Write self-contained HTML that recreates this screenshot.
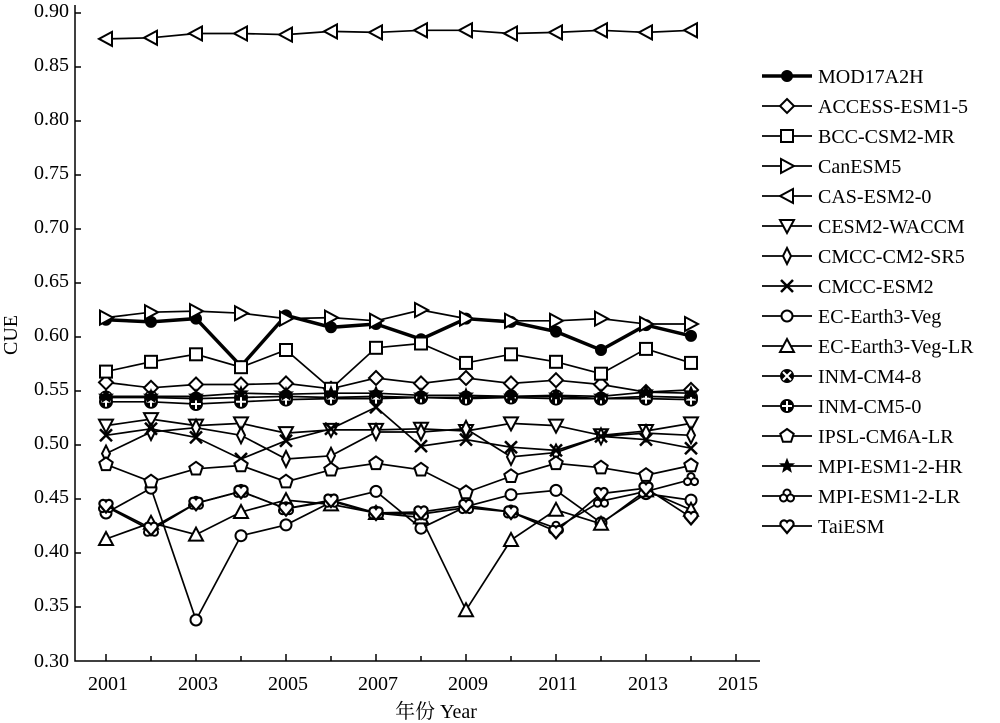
<!DOCTYPE html>
<html><head><meta charset="utf-8"><style>
body{margin:0;background:#fff;}
svg{display:block;font-family:"Liberation Serif","Noto Serif CJK SC",serif;}
</style></head><body>
<svg id="s" width="1000" height="723" viewBox="0 0 1000 723">
<g font-size="20" text-anchor="end" fill="#000">
<text x="69" y="17">0.90</text><text x="69" y="71">0.85</text><text x="69" y="125">0.80</text><text x="69" y="179">0.75</text><text x="69" y="233">0.70</text><text x="69" y="287">0.65</text><text x="69" y="341">0.60</text><text x="69" y="395">0.55</text><text x="69" y="449">0.50</text><text x="69" y="503">0.45</text><text x="69" y="557">0.40</text><text x="69" y="611">0.35</text><text x="69" y="667">0.30</text>
</g>
<g font-size="20" text-anchor="middle">
<text x="108" y="690">2001</text><text x="198" y="690">2003</text><text x="288" y="690">2005</text><text x="378" y="690">2007</text><text x="468" y="690">2009</text><text x="558" y="690">2011</text><text x="648" y="690">2013</text><text x="738" y="690">2015</text>
<text x="436" y="718">年份 Year</text>
</g>
<text font-size="20" transform="translate(17,335) rotate(-90)" text-anchor="middle">CUE</text>
<g font-size="20">
<text x="818" y="83">MOD17A2H</text><text x="818" y="113">ACCESS-ESM1-5</text><text x="818" y="143">BCC-CSM2-MR</text><text x="818" y="173">CanESM5</text><text x="818" y="203">CAS-ESM2-0</text><text x="818" y="233">CESM2-WACCM</text><text x="818" y="263">CMCC-CM2-SR5</text><text x="818" y="293">CMCC-ESM2</text><text x="818" y="323">EC-Earth3-Veg</text><text x="818" y="353">EC-Earth3-Veg-LR</text><text x="818" y="383">INM-CM4-8</text><text x="818" y="413">INM-CM5-0</text><text x="818" y="443">IPSL-CM6A-LR</text><text x="818" y="473">MPI-ESM1-2-HR</text><text x="818" y="503">MPI-ESM1-2-LR</text><text x="818" y="533">TaiESM</text>
</g>
<g id="g" stroke="#000" fill="none"></g>
<path d="M75 5V661H760" stroke="#000" stroke-width="1.5" fill="none"/>
<path d="M106 661v-7M151 661v-5M196 661v-7M241 661v-5M286 661v-7M331 661v-5M376 661v-7M421 661v-5M466 661v-7M511 661v-5M556 661v-7M601 661v-5M646 661v-7M691 661v-5M736 661v-7M75 13h6M75 67h6M75 121h6M75 175h6M75 229h6M75 283h6M75 337h6M75 391h6M75 445h6M75 499h6M75 553h6M75 607h6" stroke="#000" stroke-width="1.5"/>
</svg>
<script>
var D=[
["fc",[0.616,0.614,0.617,0.573,0.620,0.609,0.612,0.598,0.617,0.614,0.605,0.588,0.611,0.601],3.5],
["dia",[0.558,0.553,0.556,0.556,0.557,0.552,0.562,0.557,0.562,0.557,0.560,0.556,0.549,0.551]],
["sq",[0.568,0.577,0.584,0.572,0.588,0.552,0.590,0.594,0.576,0.584,0.577,0.566,0.589,0.576]],
["tr",[0.618,0.623,0.624,0.622,0.617,0.618,0.615,0.625,0.617,0.615,0.615,0.617,0.612,0.612]],
["tl",[0.876,0.877,0.881,0.881,0.880,0.883,0.882,0.884,0.884,0.881,0.882,0.884,0.882,0.884]],
["td",[0.518,0.524,0.518,0.520,0.511,0.514,0.514,0.515,0.513,0.520,0.518,0.509,0.513,0.520]],
["thd",[0.492,0.512,0.516,0.509,0.487,0.490,0.512,0.512,0.515,0.489,0.493,0.508,0.511,0.509]],
["x",[0.509,0.515,0.507,0.487,0.504,0.515,0.535,0.499,0.505,0.498,0.495,0.508,0.505,0.497]],
["c",[0.437,0.460,0.338,0.416,0.426,0.447,0.457,0.423,0.443,0.454,0.458,0.428,0.455,0.449]],
["tu",[0.413,0.428,0.417,0.438,0.449,0.445,0.437,0.433,0.347,0.412,0.440,0.427,0.458,0.440]],
["cx",[0.544,0.544,0.543,0.544,0.545,0.544,0.545,0.544,0.544,0.545,0.545,0.543,0.545,0.544]],
["pl",[0.540,0.540,0.538,0.540,0.542,0.543,0.543,0.544,0.543,0.544,0.543,0.543,0.543,0.542]],
["pe",[0.482,0.466,0.478,0.481,0.466,0.477,0.483,0.477,0.456,0.471,0.483,0.479,0.472,0.481]],
["st",[0.545,0.545,0.545,0.548,0.547,0.548,0.548,0.546,0.546,0.545,0.546,0.545,0.549,0.548]],
["cl",[0.443,0.421,0.446,0.457,0.441,0.448,0.437,0.436,0.442,0.438,0.423,0.448,0.457,0.468]],
["ht",[0.444,0.423,0.446,0.457,0.441,0.449,0.437,0.438,0.444,0.438,0.420,0.455,0.460,0.433]]];
var g=document.getElementById('g'),h='';
function X(i){return 106+45*i}function Y(v){return 661-(v-0.3)*1080}
function M(t,x,y){switch(t){
case'fc':return '<circle cx="'+x+'" cy="'+y+'" r="5.5" fill="#000"/>';
case'c':return '<circle cx="'+x+'" cy="'+y+'" r="5.5" fill="#fff" stroke-width="2"/>';
case'dia':return '<path d="M'+x+' '+(y-7)+'l7 7l-7 7l-7-7z" fill="#fff" stroke-width="2"/>';
case'thd':return '<path d="M'+x+' '+(y-8)+'l4 8l-4 8l-4-8z" fill="#fff" stroke-width="2"/>';
case'sq':return '<rect x="'+(x-6)+'" y="'+(y-6)+'" width="12" height="12" fill="#fff" stroke-width="2"/>';
case'tr':return '<path d="M'+(x-6)+' '+(y-7)+'l13 7l-13 7z" fill="#fff" stroke-width="2"/>';
case'tl':return '<path d="M'+(x+6)+' '+(y-7)+'l-13 7l13 7z" fill="#fff" stroke-width="2"/>';
case'td':return '<path d="M'+(x-7)+' '+(y-6)+'h14l-7 13z" fill="#fff" stroke-width="2"/>';
case'tu':return '<path d="M'+(x-7)+' '+(y+6)+'h14l-7-13z" fill="#fff" stroke-width="2"/>';
case'x':return '<path d="M'+(x-6)+' '+(y-6)+'l12 12M'+(x+6)+' '+(y-6)+'l-12 12" stroke-width="2.5"/>';
case'cx':return '<circle cx="'+x+'" cy="'+y+'" r="6.5" fill="#000"/><path d="M'+(x-4)+' '+(y-4)+'l8 8M'+(x+4)+' '+(y-4)+'l-8 8" stroke="#fff" stroke-width="2"/>';
case'pl':return '<circle cx="'+x+'" cy="'+y+'" r="6.5" fill="#000"/><path d="M'+(x-5)+' '+y+'h10M'+x+' '+(y-5)+'v10" stroke="#fff" stroke-width="2"/>';
case'pe':var p='';for(var k=0;k<5;k++){var a=-Math.PI/2+k*2*Math.PI/5;p+=(k?'L':'M')+(x+7*Math.cos(a)).toFixed(1)+' '+(y+7*Math.sin(a)).toFixed(1);}return '<path d="'+p+'z" fill="#fff" stroke-width="2"/>';
case'st':var p='';for(var k=0;k<10;k++){var a=-Math.PI/2+k*Math.PI/5,rr=k%2?3:7;p+=(k?'L':'M')+(x+rr*Math.cos(a)).toFixed(1)+' '+(y+rr*Math.sin(a)).toFixed(1);}return '<path d="'+p+'z" fill="#000" stroke-width="1"/>';
case'cl':return '<circle cx="'+x+'" cy="'+(y-3)+'" r="3.5" fill="#fff" stroke-width="2"/><circle cx="'+(x-3.5)+'" cy="'+(y+2)+'" r="3.5" fill="#fff" stroke-width="2"/><circle cx="'+(x+3.5)+'" cy="'+(y+2)+'" r="3.5" fill="#fff" stroke-width="2"/>';
case'ht':return '<path d="M'+x+' '+(y+7)+'L'+(x-6)+' '+(y)+'A3.3 3.3 0 0 1 '+x+' '+(y-4)+'A3.3 3.3 0 0 1 '+(x+6)+' '+y+'Z" fill="#fff" stroke-width="2.2"/>';
}}
D.forEach(function(s,j){var w=s[2]||1.7,p='';s[1].forEach(function(v,i){p+=(i?'L':'M')+X(i)+' '+Y(v).toFixed(1)});
h+='<path d="'+p+'" stroke-width="'+w+'"/>';
s[1].forEach(function(v,i){h+=M(s[0],X(i),+Y(v).toFixed(1))});
var ly=76+30*j;h+='<path d="M762 '+ly+'H812" stroke-width="'+w+'"/>'+M(s[0],787,ly);});
g.innerHTML=h;
</script>
</body></html>
